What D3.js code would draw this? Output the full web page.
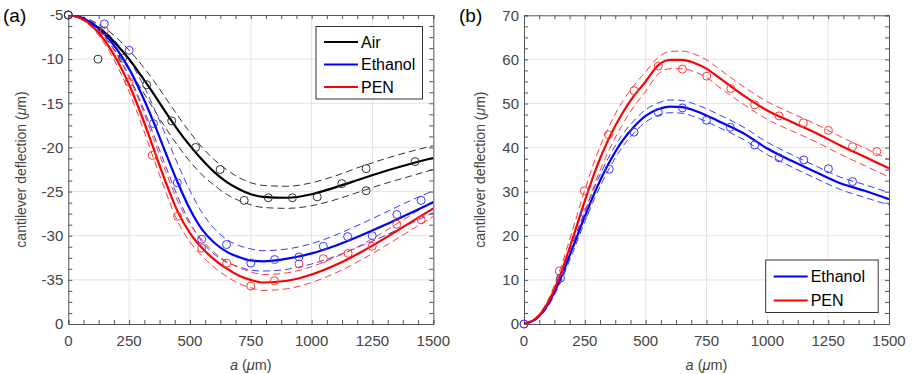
<!DOCTYPE html>
<html><head><meta charset="utf-8">
<script src="https://cdn.jsdelivr.net/npm/d3@7"></script>
<style>
body{margin:0;background:#fff;}
svg{display:block;font-family:"Liberation Sans",Arial,Helvetica,sans-serif;}
</style></head><body>
<svg id="chart" width="912" height="374"></svg>
<script>
// ---------- shared x grid of the fitted curves (a, µm) ----------
const aGrid = [0,50,100,150,200,250,300,350,400,450,500,550,600,650,700,750,800,900,1000,1100,1200,1300,1400,1500];

// ---------- panel (a) ----------
const airFit    = [-5,-5.3,-6.0,-7.0,-8.4,-10.0,-11.9,-13.9,-16.0,-18.0,-19.8,-21.4,-22.8,-23.9,-24.7,-25.3,-25.6,-25.7,-25.3,-24.5,-23.6,-22.7,-21.9,-21.2];
const airUpper  = [-5,-5.2,-5.7,-6.5,-7.6,-9.0,-10.6,-12.4,-14.4,-16.4,-18.3,-20.0,-21.4,-22.5,-23.4,-24.0,-24.3,-24.4,-24.0,-23.2,-22.2,-21.3,-20.5,-19.8];
const airLower  = [-5,-5.4,-6.3,-7.6,-9.3,-11.2,-13.4,-15.6,-17.8,-19.8,-21.6,-23.1,-24.3,-25.3,-26.0,-26.5,-26.8,-26.9,-26.6,-25.9,-25.0,-24.1,-23.3,-22.5];
const ethFitA   = [-5,-5.3,-6.0,-7.2,-8.9,-11.1,-13.9,-17.1,-20.6,-24.0,-27.0,-29.3,-30.8,-31.8,-32.4,-32.8,-32.9,-32.6,-32.0,-31.1,-30.0,-28.8,-27.5,-26.2];
const ethUpperA = [-5,-5.2,-5.8,-6.8,-8.2,-10.1,-12.5,-15.4,-18.6,-21.9,-24.9,-27.4,-29.2,-30.4,-31.1,-31.5,-31.7,-31.5,-30.9,-29.9,-28.7,-27.4,-26.1,-24.9];
const ethLowerA = [-5,-5.4,-6.2,-7.5,-9.4,-11.9,-15.0,-18.5,-22.1,-25.6,-28.5,-30.7,-32.1,-33.0,-33.5,-33.9,-34.0,-33.8,-33.2,-32.3,-31.2,-30.0,-28.7,-27.4];
const penFitA   = [-5,-5.35,-6.3,-7.9,-10.1,-12.9,-16.3,-20.1,-23.9,-27.3,-29.7,-31.4,-32.7,-33.7,-34.5,-35.0,-35.3,-35.1,-34.4,-33.3,-31.9,-30.3,-28.6,-26.9];
const penUpperA = [-5,-5.3,-6.1,-7.5,-9.5,-12.1,-15.3,-19.0,-22.7,-26.1,-28.7,-30.5,-31.9,-32.9,-33.6,-34.1,-34.4,-34.2,-33.5,-32.4,-31.1,-29.5,-27.8,-26.1];
const penLowerA = [-5,-5.4,-6.5,-8.3,-10.7,-13.7,-17.3,-21.2,-25.0,-28.4,-30.7,-32.3,-33.6,-34.6,-35.4,-35.9,-36.2,-36.0,-35.3,-34.2,-32.8,-31.2,-29.5,-27.8];

const airPtsX = [0,122,223,322,425,523,624,723,822,921,1023,1124,1224,1224,1425];
const airPtsY = [-5,-10,-9.9,-12.9,-17.0,-20.0,-22.5,-26.0,-25.7,-25.7,-25.6,-24.1,-24.9,-22.4,-21.6];
const ethPtsXA = [0,148,250,350,448,548,650,750,848,948,1048,1148,1249,1350,1450];
const ethPtsYA = [-5,-6.0,-9.0,-17.3,-24.0,-30.4,-31.0,-33.1,-32.7,-32.4,-31.2,-30.1,-30.0,-27.6,-26.0];
const penPtsXA = [0,148,250,345,449,548,651,750,847,948,1048,1150,1249,1350,1450];
const penPtsYA = [-5,-6.8,-12.6,-20.9,-27.8,-31.4,-33.1,-35.7,-35.1,-33.2,-32.6,-32.0,-31.2,-28.7,-28.2];

const yTicksA = [-5,-10,-15,-20,-25,-30,-35,-40];
const yTickLabelsA = ["-5","-10","-15","-20","-25","-30","-35","0"];

// ---------- panel (b) ----------
const ethFitB   = [0,1.2,4.6,10.3,17.3,24.4,31.0,36.6,41.2,44.6,47.2,48.7,49.3,49.2,48.4,47.3,46.0,43.3,39.8,37.0,34.4,31.9,30.2,28.3];
const ethUpperB = [0,1.4,5.1,11.2,18.4,25.6,32.3,38.0,42.6,46.0,48.6,50.1,50.8,50.7,49.9,48.8,47.5,44.7,41.2,38.4,35.8,33.3,31.6,29.8];
const ethLowerB = [0,1.0,4.1,9.4,16.2,23.2,29.7,35.2,39.8,43.2,45.8,47.3,47.9,47.8,47.0,45.9,44.6,41.9,38.4,35.6,33.0,30.5,28.7,27.0];
const penFitB   = [0,1.3,5.0,11.3,19.4,27.9,35.8,42.2,47.4,51.6,55.0,58.6,59.9,59.9,59.2,57.9,55.9,51.9,48.4,45.8,43.3,40.5,37.9,35.3];
const penUpperB = [0,1.5,5.6,12.6,21.4,30.4,38.5,44.9,50.0,54.0,57.2,60.4,61.8,61.9,61.2,59.9,57.9,53.9,50.4,47.8,45.3,42.5,39.9,37.3];
const penLowerB = [0,1.1,4.4,10.0,17.4,25.4,33.1,39.5,44.8,49.2,52.8,56.6,57.9,57.9,57.2,55.9,53.8,49.9,46.4,43.8,41.3,38.5,35.9,33.3];

const ethPtsXB = [0,150,248,350,452,552,651,750,848,948,1048,1150,1251,1350];
const ethPtsYB = [0,10.4,25.2,35.1,43.5,48.0,49.0,46.2,44.6,40.6,37.7,37.2,35.2,32.3];
const penPtsXB = [0,145,248,347,452,552,651,751,850,948,1048,1148,1251,1350,1450];
const penPtsYB = [0,12.0,30.2,42.9,52.9,58.5,57.8,56.2,53.4,49.7,47.2,45.6,43.9,40.2,39.1];

const yTicksB = [0,10,20,30,40,50,60,70];
const yTickLabelsB = ["0","10","20","30","40","50","60","70"];

const xTicks = [0,250,500,750,1000,1250,1500];
const xTickLabels = ["0","250","500","750","1000","1250","1500"];

const legendA = ["Air","Ethanol","PEN"];
const legendB = ["Ethanol","PEN"];

// ---------- styles ----------
const COL = {black:"#000000", blue:"#0000ff", red:"#ff0000"};
const DASH = {black:"#333333", blue:"#3a3aff", red:"#ff3a3a"};
const PT = {black:"#333333", blue:"#3a3aff", red:"#ff3a3a"};
const axisCol = "#555555";
const textCol = "#444444";

const svg = d3.select("#chart");

function panel(opt){
  const g = svg.append("g");
  const x = d3.scaleLinear().domain([0,1500]).range([opt.x0, opt.x1]);
  const y = d3.scaleLinear().domain(opt.yDomain).range([opt.y1, opt.y0]);
  const clipId = "clip"+opt.id;
  svg.append("clipPath").attr("id",clipId).append("rect")
    .attr("x",opt.x0).attr("y",opt.y0).attr("width",opt.x1-opt.x0).attr("height",opt.y1-opt.y0);

  // grid
  g.append("g").selectAll("line").data(xTicks.slice(1,-1)).join("line")
    .attr("x1",d=>x(d)).attr("x2",d=>x(d)).attr("y1",opt.y0).attr("y2",opt.y1)
    .attr("stroke","#e3e3e3").attr("stroke-width",1);
  g.append("g").selectAll("line").data(opt.yTicks.filter(t=>t!==opt.yDomain[0]&&t!==opt.yDomain[1])).join("line")
    .attr("x1",opt.x0).attr("x2",opt.x1).attr("y1",d=>y(d)).attr("y2",d=>y(d))
    .attr("stroke","#e3e3e3").attr("stroke-width",1);

  // axes (inward ticks on all four sides)
  const xMinor = d3.range(0,1500.01,62.5);
  const yMinor = d3.range(opt.yDomain[0], opt.yDomain[1]+0.001, opt.yMinorStep);
  const tl = 4;
  const bottom = d3.axisBottom(x).tickValues(xMinor).tickSize(-tl).tickFormat("");
  const top = d3.axisTop(x).tickValues(xMinor).tickSize(-tl).tickFormat("");
  const left = d3.axisLeft(y).tickValues(yMinor).tickSize(-tl).tickFormat("");
  const right = d3.axisRight(y).tickValues(yMinor).tickSize(-tl).tickFormat("");
  [[bottom,`translate(0,${opt.y1})`],[top,`translate(0,${opt.y0})`],[left,`translate(${opt.x0},0)`],[right,`translate(${opt.x1},0)`]]
    .forEach(([ax,tr])=>{
      const a = g.append("g").attr("transform",tr).call(ax);
      a.selectAll("path").attr("stroke",axisCol).attr("stroke-width",1);
      a.selectAll("line").attr("stroke",axisCol);
    });
  // tick labels
  g.append("g").selectAll("text").data(xTicks).join("text")
    .attr("x",d=>x(d)).attr("y",opt.y1+22).attr("text-anchor","middle")
    .attr("font-size",15).attr("fill",textCol).text((d,i)=>xTickLabels[i]);
  g.append("g").selectAll("text").data(opt.yTicks).join("text")
    .attr("x",opt.x0-5).attr("y",d=>y(d)+5.3).attr("text-anchor","end")
    .attr("font-size",15).attr("fill",textCol).text((d,i)=>opt.yLabels[i]);

  // axis titles
  const xt = g.append("text").attr("x",(opt.x0+opt.x1)/2).attr("y",opt.y1+46)
    .attr("text-anchor","middle").attr("font-size",14.5).attr("fill",textCol);
  xt.append("tspan").attr("font-style","italic").text("a");
  xt.append("tspan").text(" (");
  xt.append("tspan").attr("font-style","italic").text("μ");
  xt.append("tspan").text("m)");
  const yt = g.append("text").attr("transform",`translate(${opt.yTitleX},${(opt.y0+opt.y1)/2}) rotate(-90)`)
    .attr("text-anchor","middle").attr("font-size",14).attr("fill",textCol);
  yt.append("tspan").text("cantilever deflection (");
  yt.append("tspan").attr("font-style","italic").text("μ");
  yt.append("tspan").text("m)");

  // panel letter
  svg.append("text").attr("x",opt.letterX).attr("y",22).attr("font-size",19).attr("fill","#000").text(opt.letter);

  // curves
  const plot = g.append("g").attr("clip-path",`url(#${clipId})`);
  const line = d3.line().x((d,i)=>x(aGrid[i])).y(d=>y(d)).curve(d3.curveMonotoneX);
  opt.series.forEach(s=>{
    plot.append("path").attr("d",line(s.upper)).attr("fill","none")
      .attr("stroke",DASH[s.c]).attr("stroke-width",1).attr("stroke-dasharray","7,4");
    plot.append("path").attr("d",line(s.lower)).attr("fill","none")
      .attr("stroke",DASH[s.c]).attr("stroke-width",1).attr("stroke-dasharray","7,4");
  });
  opt.series.forEach(s=>{
    plot.append("path").attr("d",line(s.fit)).attr("fill","none")
      .attr("stroke",COL[s.c]).attr("stroke-width",2.2);
  });
  opt.series.slice().reverse().forEach(s=>{
    g.append("g").selectAll("circle").data(s.px).join("circle")
      .attr("cx",d=>x(d)).attr("cy",(d,i)=>y(s.py[i])).attr("r",4)
      .attr("fill","none").attr("stroke",PT[s.c]).attr("stroke-width",1);
  });

  // legend
  const L = opt.legend;
  const lg = g.append("g");
  lg.append("rect").attr("x",L.x).attr("y",L.y).attr("width",L.w).attr("height",L.h)
    .attr("fill","#fff").attr("stroke","#333").attr("stroke-width",1);
  L.items.forEach((name,i)=>{
    const c = L.colors[i];
    const yy = L.y + L.first + i*L.step;
    lg.append("line").attr("x1",L.x+8).attr("x2",L.x+42).attr("y1",yy).attr("y2",yy)
      .attr("stroke",COL[c]).attr("stroke-width",2.2);
    lg.append("text").attr("x",L.x+45).attr("y",yy+5.5).attr("font-size",16).attr("fill","#000").text(name);
  });
}

panel({
  id:"A", letter:"(a)", letterX:3,
  x0:68.3, x1:433.3, y0:15, y1:324,
  yDomain:[-40,-5], yTicks:yTicksA, yLabels:yTickLabelsA, yMinorStep:1.25,
  yTitleX:26,
  series:[
    {c:"black", fit:airFit, upper:airUpper, lower:airLower, px:airPtsX, py:airPtsY},
    {c:"blue", fit:ethFitA, upper:ethUpperA, lower:ethLowerA, px:ethPtsXA, py:ethPtsYA},
    {c:"red", fit:penFitA, upper:penUpperA, lower:penLowerA, px:penPtsXA, py:penPtsYA}
  ],
  legend:{x:316, y:26.5, w:106.5, h:72.5, first:15.5, step:22.5, items:legendA, colors:["black","blue","red"]}
});

panel({
  id:"B", letter:"(b)", letterX:459,
  x0:524, x1:889, y0:15.3, y1:324,
  yDomain:[0,70], yTicks:yTicksB, yLabels:yTickLabelsB, yMinorStep:2.5,
  yTitleX:485,
  series:[
    {c:"blue", fit:ethFitB, upper:ethUpperB, lower:ethLowerB, px:ethPtsXB, py:ethPtsYB},
    {c:"red", fit:penFitB, upper:penUpperB, lower:penLowerB, px:penPtsXB, py:penPtsYB}
  ],
  legend:{x:765.7, y:260, w:112.5, h:52.5, first:16.5, step:24, items:legendB, colors:["blue","red"]}
});
</script>
</body></html>
